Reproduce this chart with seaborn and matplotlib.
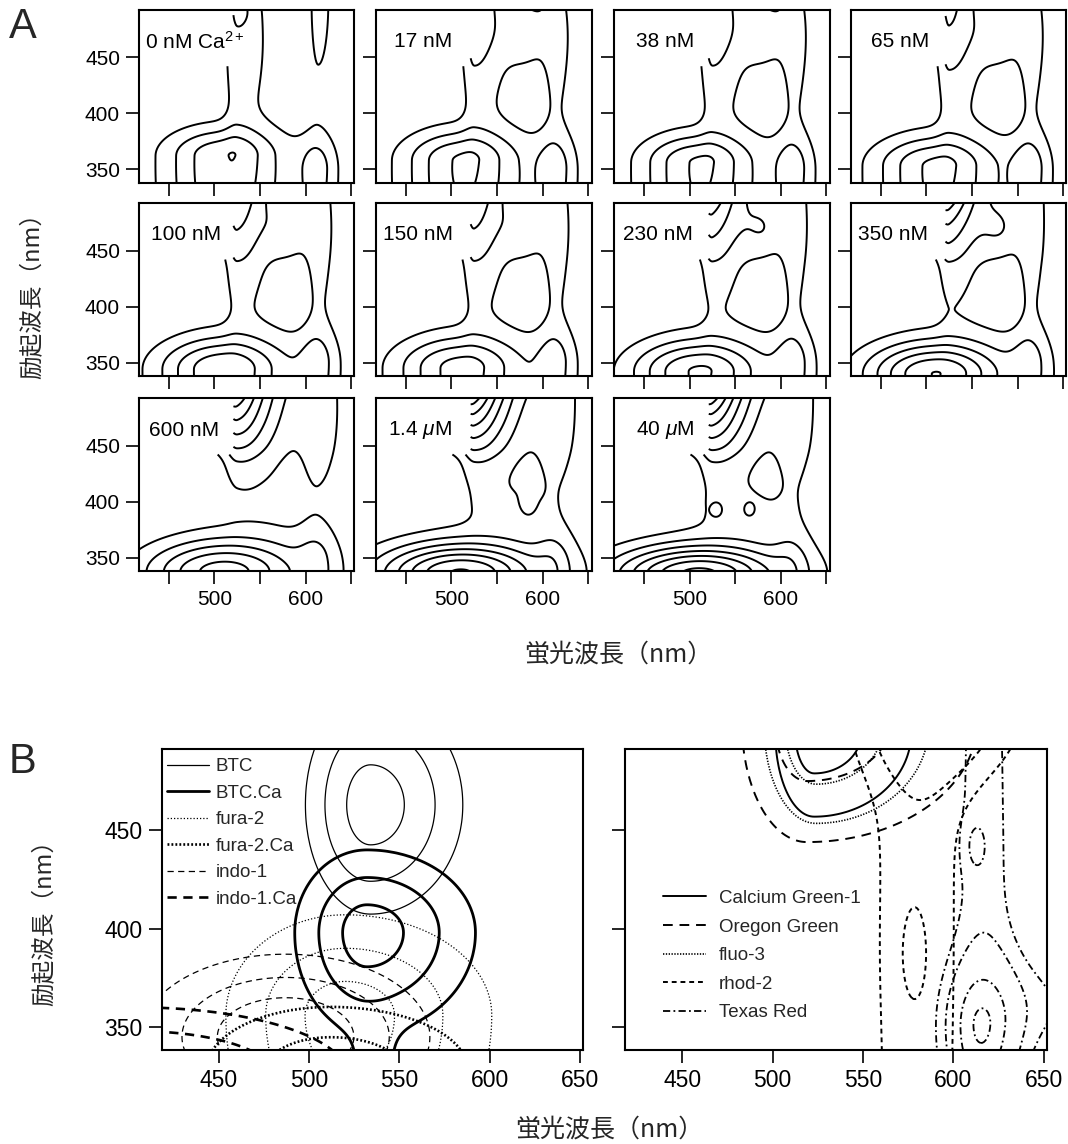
import numpy as np
import matplotlib
matplotlib.use("Agg")
import matplotlib.pyplot as plt
import seaborn as sns
from matplotlib.lines import Line2D

sns.set_theme(style="ticks")
plt.rcParams['font.family'] = ['Liberation Sans', 'DejaVu Sans']
plt.rcParams['mathtext.fontset'] = 'custom'
plt.rcParams['mathtext.rm'] = 'Liberation Sans'
plt.rcParams['mathtext.it'] = 'Liberation Sans:italic'
CJK = ['Noto Sans CJK JP', 'DejaVu Sans']

# ---------------------------------------------------------------- data
# Panel A: Ca2+ concentrations
panel_labels = ["0 nM Ca$^{2+}$", "17 nM", "38 nM", "65 nM", "100 nM", "150 nM",
                "230 nM", "350 nM", "600 nM", "1.4 $\\mu$M", "40 $\\mu$M"]
# main Ca-sensitive peak (emission/excitation centre in nm, height, widths in nm)
main_amp = [3.45, 3.6, 3.6, 3.7, 4.4, 3.9, 4.6, 5.5, 5.0, 6.6, 6.8]
main_em  = [507, 508, 506, 507, 506, 506, 506, 506, 506, 506, 506]
main_ex  = [362, 358, 356, 353, 344, 345, 342, 340, 337, 336, 335]
main_se  = [44, 44, 42, 46, 48, 48, 50, 52, 58, 62, 64]
main_sy  = [18, 19, 18, 19, 20, 20, 20, 20, 20, 19, 18]
# red bump near 612 nm emission (bottom right)
red_amp  = [1.8, 1.8, 1.8, 1.8, 1.6, 1.6, 1.6, 1.4, 1.1, 1.0, 0.9]
# broad skirt along the bottom
skirt_amp = [0.6, 0.8, 0.8, 0.8, 0.8, 0.8, 0.8, 0.8, 0.8, 0.8, 0.8]
# green ridge (~525 nm emission, upper half)
green_amp = [1.85, 2.6, 2.6, 2.7, 2.6, 2.6, 2.6, 2.6, 2.4, 2.4, 2.4]
green_ex  = [470, 490, 490, 490, 490, 490, 490, 490, 485, 485, 485]
green_sy  = [60, 60, 60, 60, 58, 58, 56, 54, 40, 40, 40]
green_ser = [25, 25, 25, 25, 25, 25, 25, 25, 22, 22, 22]
# red ridge (~614 nm emission, upper half)
ridge_amp = [1.3, 1.35, 1.35, 1.35, 1.4, 1.4, 1.4, 1.4, 1.5, 1.5, 1.5]
ridge_ex  = [500, 470, 470, 470, 470, 470, 470, 470, 475, 475, 475]
ridge_sy  = [70, 60, 60, 60, 60, 60, 60, 60, 50, 50, 50]
ridge_sel = [10, 10, 10, 10, 10, 10, 10, 10, 15, 15, 15]
ridge_ser = [15, 15, 15, 15, 15, 15, 15, 15, 20, 20, 20]
# top fill between the ridges
top_amp   = [0.0, 1.6, 1.6, 1.6, 1.6, 1.6, 1.6, 1.6, 1.6, 1.6, 1.6]
top_em    = [582, 582, 582, 582, 582, 582, 582, 582, 555, 555, 555]
top_ex    = [470, 470, 470, 470, 470, 470, 470, 470, 485, 485, 485]
top_sel   = [18, 18, 18, 18, 18, 18, 18, 18, 40, 40, 40]
top_ser   = [18, 18, 18, 18, 18, 18, 18, 18, 28, 28, 28]
top_sy    = [20, 20, 20, 20, 20, 20, 20, 20, 45, 45, 45]
# scatter slope at top left (hooks)
scat_amp  = [0.0, 0.2, 0.2, 0.6, 1.4, 1.3, 2.2, 3.2, 3.4, 4.4, 4.4]
# small local features (panel index, em, ex, height, em width, ex width)
isl_panel = [0, 9, 9, 10, 10, 10]
isl_em    = [529, 560, 583, 555, 530, 565]
isl_ex    = [492, 395, 400, 393, 393, 393]
isl_amp   = [0.6, 0.5, -0.55, 0.6, -0.6, -0.6]
isl_se    = [9, 35, 5, 40, 4.5, 4.5]
isl_sy    = [9, 14, 6, 15, 4.5, 4.5]
levels_A = [1, 2, 3, 4, 5, 6, 7, 8, 9]

# Panel B left: BTC, fura-2, indo-1 (free / Ca-bound): [height, em, ex, se_left, se_right, sy_down, sy_up]
btc_peak    = [1.0, 534, 463, 12, 17, 18.5, 18.5]
btc_levels  = [0.011, 0.110, 0.546]
btcca_peak  = [1.0, 532, 398, 13.3, 20, 17, 14]
btcca_tail  = [0.02, 536, 338, 9, 9, 30, 30]
btcca_levels = [0.011, 0.135, 0.6]
fura_peak   = [1.0, 520, 356, 22, 27, 30, 17]
fura_levels = [0.011, 0.135, 0.6]
furaca_peak = [1.0, 512, 328, 30, 33, 14, 14]
furaca_levels = [0.071, 0.487]
indo_peak   = [1.0, 487, 345, 38, 38, 20, 20]
indo_levels = [0.11, 0.32, 0.61]
indoca_peak = [1.0, 405, 325, 60, 60, 18, 18]
indoca_levels = [0.152, 0.446]

# Panel B right: Calcium Green-1, Oregon Green, fluo-3, rhod-2, Texas Red
cg_peak     = [1.0, 523, 500, 10, 25, 20, 20]
cg_levels   = [0.099, 0.576]
og_peak     = [1.0, 519, 505, 13, 34, 22, 22]
og_levels   = [0.0216, 0.397]
fluo_peak   = [1.0, 524, 503, 11, 24, 19, 19]
fluo_levels = [0.034, 0.30]
rhod_band   = [1.0, 580, 420, 20, 20, 300, 300]
rhod_spot   = [0.55, 578, 387, 7, 7, 22, 22]
rhod_top    = [2.4, 592, 515, 28, 28, 25, 25]
rhod_levels = [0.6, 1.3]
tr_band     = [1.0, 617, 420, 16, 16, 300, 300]
tr_base     = [1.5, 613, 350, 16, 18, 30, 25]
tr_spot     = [0.45, 612, 442, 5, 5, 10, 10]
tr_side     = [0.65, 655, 362, 20, 20, 20, 20]
tr_levels   = [0.8, 1.25, 2.0, 2.45]

# ---------------------------------------------------------------- helpers
def blob(EM, EX, p):
    amp, e0, x0, sel, ser, syd, syu = p
    se = np.where(EM < e0, sel, ser)
    sy = np.where(EX < x0, syd, syu)
    return amp * np.exp(-0.5 * (((EM - e0) / se) ** 2 + ((EX - x0) / sy) ** 2))

def slope(EM, EX, amp):
    z = amp * np.exp((EX - 492.0) / 28.0 - (np.maximum(EM, 521.0) - 521.0) / 35.0)
    return z / (1 + np.exp(-(EX - 440.0) / 4.0))

em = np.linspace(416, 655, 240)
ex = np.linspace(337, 494, 158)
EM, EX = np.meshgrid(em, ex)

W, H = 1068, 1144
fig = plt.figure(figsize=(W / 100, H / 100), dpi=100)

def add_ax(l, t, w, h):
    return fig.add_axes([l / W, 1 - (t + h) / H, w / W, h / H])

def style_ax(ax, fs):
    for s in ax.spines.values():
        s.set_color('black')
        s.set_linewidth(1.5)
    ax.tick_params(direction='out', length=9.5, width=1.2, color='black',
                   labelsize=fs, pad=4, labelcolor='black')
    ax.set_facecolor('white')

# ---------------------------------------------------------------- panel A
A_left = [138.8, 376.0, 614.1, 850.9]
A_top = [10, 203.3, 398.3]
A_w, A_h = 215.5, 172.7
label_dx = [6, 18, 22, 20, 12, 7, 9, 7, 10, 12, 22]
mask = (EM < 521) & (EX > 442)

for i, lab in enumerate(panel_labels):
    r, c = divmod(i, 4)
    ax = add_ax(A_left[c], A_top[r], A_w, A_h)
    Z = blob(EM, EX, [main_amp[i], main_em[i], main_ex[i], main_se[i], main_se[i], 120, main_sy[i]])
    Z += blob(EM, EX, [skirt_amp[i], 575, 340, 70, 70, 50, 50])
    Z += blob(EM, EX, [red_amp[i], 612, 350, 14, 15, 60, 20])
    Z += blob(EM, EX, [green_amp[i], 525, green_ex[i], 10, green_ser[i], green_sy[i], green_sy[i]])
    Z += blob(EM, EX, [ridge_amp[i], 614, ridge_ex[i], ridge_sel[i], ridge_ser[i], ridge_sy[i], ridge_sy[i]])
    Z += blob(EM, EX, [top_amp[i], top_em[i], top_ex[i], top_sel[i], top_ser[i], top_sy[i], top_sy[i]])
    Z += slope(EM, EX, scat_amp[i])
    for k, pi in enumerate(isl_panel):
        if pi == i:
            Z += blob(EM, EX, [isl_amp[k], isl_em[k], isl_ex[k], isl_se[k], isl_se[k], isl_sy[k], isl_sy[k]])
    Zm = np.ma.array(Z, mask=mask)
    ax.contour(em, ex, Zm, levels=levels_A, colors='black', linewidths=1.4)
    ax.set_xlim(417.3, 653.4)
    ax.set_ylim(338.0, 492.2)
    ax.set_xticks([450, 500, 550, 600, 650])
    ax.set_yticks([350, 400, 450])
    ax.set_xticklabels(['', '500', '', '600', ''] if r == 2 else [''] * 5)
    ax.set_yticklabels(['350', '400', '450'] if c == 0 else [''] * 3)
    style_ax(ax, 15)
    ax.text(label_dx[i] / A_w, 1 - 31.7 / A_h, lab, transform=ax.transAxes,
            fontsize=15, ha='left', va='center', color='black')

fig.text(23 / W, 1 - 27 / H, "A", fontsize=30, ha='center', va='center')
fig.text(33 / W, 1 - 290 / H, "励起波長（nm）", rotation=90, family=CJK,
         fontsize=17, ha='center', va='center')
fig.text(618 / W, 1 - 655 / H, "蛍光波長（nm）", family=CJK, fontsize=18,
         ha='center', va='center')

# ---------------------------------------------------------------- panel B
B_left = [161.5, 625.0]
B_top, B_w, B_h = 749, 421.5, 301

def draw(ax, comps, levels, lw, ls):
    Z = sum(blob(EM, EX, p) for p in comps)
    ax.contour(em, ex, Z, levels=levels, colors='black', linewidths=lw,
               linestyles=[ls])

axL = add_ax(B_left[0], B_top, B_w, B_h)
draw(axL, [btc_peak], btc_levels, 0.9, 'solid')
draw(axL, [btcca_peak, btcca_tail], btcca_levels, 2.0, 'solid')
draw(axL, [fura_peak], fura_levels, 0.9, (0, (1, 1.6)))
draw(axL, [furaca_peak], furaca_levels, 1.9, (0, (0.7, 0.8)))
draw(axL, [indo_peak], indo_levels, 0.9, (0, (5, 3.5)))
draw(axL, [indoca_peak], indoca_levels, 1.9, (0, (3.5, 2.5)))

axR = add_ax(B_left[1], B_top, B_w, B_h)
draw(axR, [cg_peak], cg_levels, 1.4, 'solid')
draw(axR, [og_peak], og_levels, 1.4, (0, (5, 3.5)))
draw(axR, [fluo_peak], fluo_levels, 1.2, (0, (0.8, 0.9)))
draw(axR, [rhod_band, rhod_spot, rhod_top], rhod_levels, 1.4, (0, (2.5, 2)))
draw(axR, [tr_band, tr_base, tr_spot, tr_side], tr_levels, 1.3, (0, (4, 1.8, 1, 1.8)))

for k, ax in enumerate([axL, axR]):
    ax.set_xlim(418.3, 651.6)
    ax.set_ylim(338.3, 491.4)
    ax.set_xticks([450, 500, 550, 600, 650])
    ax.set_yticks([350, 400, 450])
    if k == 1:
        ax.set_yticklabels([''] * 3)
    style_ax(ax, 16.5)

hL = [Line2D([], [], color='black', lw=0.9, ls='solid'),
      Line2D([], [], color='black', lw=2.0, ls='solid'),
      Line2D([], [], color='black', lw=0.9, ls=(0, (1, 1.6))),
      Line2D([], [], color='black', lw=1.9, ls=(0, (0.7, 0.8))),
      Line2D([], [], color='black', lw=0.9, ls=(0, (5, 3.5))),
      Line2D([], [], color='black', lw=1.9, ls=(0, (3.5, 2.5)))]
labL = ["BTC", "BTC.Ca", "fura-2", "fura-2.Ca", "indo-1", "indo-1.Ca"]
axL.legend(hL, labL, loc='upper left', bbox_to_anchor=(0.012, 0.97), frameon=False,
           fontsize=13.5, handlelength=2.25, handletextpad=0.35, labelspacing=0.5,
           borderpad=0, borderaxespad=0)

hR = [Line2D([], [], color='black', lw=1.4, ls='solid'),
      Line2D([], [], color='black', lw=1.4, ls=(0, (5, 3.5))),
      Line2D([], [], color='black', lw=1.2, ls=(0, (0.8, 0.9))),
      Line2D([], [], color='black', lw=1.4, ls=(0, (2.5, 2))),
      Line2D([], [], color='black', lw=1.3, ls=(0, (4, 1.8, 1, 1.8)))]
labR = ["Calcium Green-1", "Oregon Green", "fluo-3", "rhod-2", "Texas Red"]
axR.legend(hR, labR, loc='upper left', bbox_to_anchor=(0.09, 0.532), frameon=False,
           fontsize=13.5, handlelength=2.3, handletextpad=0.7, labelspacing=0.61,
           borderpad=0, borderaxespad=0)

fig.text(23 / W, 1 - 762 / H, "B", fontsize=30, ha='center', va='center')
fig.text(45 / W, 1 - 917 / H, "励起波長（nm）", rotation=90, family=CJK,
         fontsize=17, ha='center', va='center')
fig.text(609 / W, 1 - 1130 / H, "蛍光波長（nm）", family=CJK, fontsize=18,
         ha='center', va='center')

fig.savefig("out.png", dpi=100, facecolor='white')
